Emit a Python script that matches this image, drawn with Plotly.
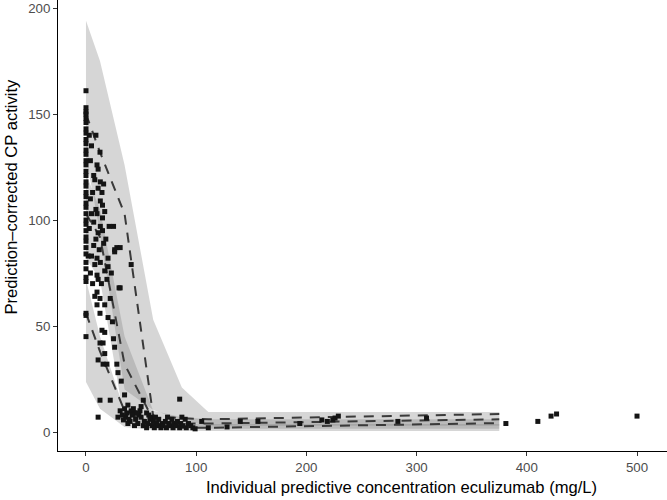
import plotly.graph_objects as go

# ---- data ----
bin_conc = [0, 12.7, 35, 61, 87, 111, 375]

# simulated percentile confidence bands
p95_ci_hi = [194, 175, 126, 53, 21, 9.4, 9.4]
p95_ci_lo = [130, 94, 20, 10.4, 5.7, 3.0, 3.0]
p50_ci_hi = [122, 105, 45, 10, 7, 6, 6]
p50_ci_lo = [82, 72, 5, 3, 2, 1.5, 1.5]
p05_ci_hi = [72, 45, 10, 5, 4, 3.8, 3.8]
p05_ci_lo = [23.6, 11, 2.4, 1.0, 0.6, 0.5, 0.5]

# observed percentiles
obs_p95 = [150, 132, 103, 7.5, 6.5, 6.0, 8.5]
obs_p50 = [103, 92, 32, 5.7, 4.0, 4.0, 6.0]
obs_p05 = [56, 38, 10, 3.0, 2.0, 2.0, 4.2]

# observations: x = 0 group
obs0_y = [161, 153, 151, 150, 148, 146, 143, 141, 138, 136, 133, 131, 128, 126, 123,
          121, 118, 116, 113, 111, 108, 106, 103, 100, 98, 95, 92, 90, 87, 84, 80, 77,
          73, 71, 56, 55, 45]
obs0_x = [0] * len(obs0_y)

obs_conc = obs0_x + [
    5, 3, 12.7, 10, 11, 8, 13, 6, 14.5, 13, 15, 10, 5, 15, 13, 11, 15, 25, 28, 31,
    2, 5, 10, 8, 13, 20, 17, 4, 10, 11, 23, 26, 31, 41, 10, 12.7, 10, 12.7, 20, 14.5,
    17, 12.7, 15.5, 17, 11, 15.5, 19, 25, 26, 28, 29, 32, 35, 12.7, 11, 22, 29, 34, 38, 37,
    41, 44, 49, 52, 55, 60, 85, 26, 30, 7, 9, 12, 16, 3, 7, 9, 4, 11, 7, 16,
    18, 20, 6, 8, 14, 17, 22, 4, 9, 17, 21, 19, 24,
    45, 47, 50, 52, 53, 55, 56, 58, 60, 61, 62, 64, 65, 66, 68, 69, 70, 72, 73, 75,
    76, 78, 79, 80, 82, 83, 85, 86, 88, 90, 91, 93, 95, 97, 99, 40, 42, 38, 36, 44,
    48, 57, 63, 74, 87, 31, 33, 35, 39, 43, 46, 50,
    105, 111, 128, 140, 156, 194, 214, 219, 224, 226, 229, 283, 309, 381, 410, 422, 427, 500]
obs_activity = obs0_y + [
    135, 140, 132, 126, 124, 119, 118, 113, 113, 109, 107, 103, 103, 101, 97, 94, 95, 97, 87, 87,
    83, 83, 82, 79, 80, 82, 76, 75, 74, 72, 75, 85, 68, 79, 66, 63, 60, 56, 54, 48,
    47, 42, 42, 37, 34, 32, 32, 44, 40, 32, 28, 24, 17.5, 15, 7, 15, 7, 5.7, 12.7, 9,
    10, 9, 10, 15, 9, 7, 15.5, 86, 68, 88, 91, 86, 89, 96, 99, 105, 110, 115, 121, 117,
    91, 78, 70, 64, 70, 60, 63, 128, 140, 104, 97, 72, 52,
    6, 4, 7, 3, 5, 2, 4, 6, 3, 5, 2, 4, 3, 6, 2, 4, 3, 5, 2, 4,
    3, 6, 2, 4, 3, 5, 2, 4, 3, 6, 2, 4, 3, 2, 1.5, 5, 8, 4, 7, 3,
    8, 8, 7, 7, 7, 10, 8, 11, 6, 11, 9, 12,
    5, 2, 2.4, 5, 5, 4, 5.7, 5, 5.7, 6.6, 7.5, 5, 6.6, 4, 5, 7.5, 8.5, 7.5]

band_fill = "rgba(128,128,128,0.32)"
line_col = "#3a3a3a"

fig = go.Figure()

for hi, lo in [(p95_ci_hi, p95_ci_lo), (p50_ci_hi, p50_ci_lo), (p05_ci_hi, p05_ci_lo)]:
    fig.add_trace(go.Scatter(
        x=bin_conc + bin_conc[::-1], y=hi + lo[::-1],
        fill="toself", fillcolor=band_fill, mode="none",
        line=dict(width=0), hoverinfo="skip", showlegend=False))

for obs in [obs_p95, obs_p50, obs_p05]:
    fig.add_trace(go.Scatter(
        x=bin_conc, y=obs, mode="lines",
        line=dict(color=line_col, width=2, dash="10px,8px"),
        hoverinfo="skip", showlegend=False))

fig.add_trace(go.Scatter(
    x=obs_conc, y=obs_activity, mode="markers",
    marker=dict(symbol="square", size=5, color="#141414", line=dict(width=0)),
    showlegend=False))

FONT = "Liberation Sans, Arial, sans-serif"
tickfont = dict(family=FONT, size=13.3, color="#4d4d4d")
fig.update_layout(
    width=667, height=500,
    margin=dict(l=58, r=0, t=0, b=49, autoexpand=False),
    paper_bgcolor="white", plot_bgcolor="white",
    showlegend=False,
    font=dict(family=FONT),
    xaxis=dict(range=[-25.4, 527.2], tickvals=[0, 100, 200, 300, 400, 500], automargin=False,
               showgrid=False, zeroline=False, showline=True, linecolor="black", linewidth=1,
               ticks="outside", ticklen=4, tickcolor="#333333", tickfont=tickfont),
    yaxis=dict(range=[-8.96, 203.8], tickvals=[0, 50, 100, 150, 200], automargin=False,
               showgrid=False, zeroline=False, showline=True, linecolor="black", linewidth=1,
               ticks="outside", ticklen=4, tickcolor="#333333", tickfont=tickfont),
    annotations=[
        dict(text="Individual predictive concentration eculizumab (mg/L)",
             xref="paper", yref="paper", x=(401 - 58) / 609, y=(451 - 487) / 451,
             xanchor="center", yanchor="middle", showarrow=False,
             font=dict(family=FONT, size=16.6, color="black")),
        dict(text="Prediction\u2013corrected CP activity",
             xref="paper", yref="paper", x=(11 - 58) / 609, y=(451 - 196.5) / 451,
             xanchor="center", yanchor="middle", textangle=-90, showarrow=False,
             font=dict(family=FONT, size=16.6, color="black")),
    ],
)

fig.write_html("out.html", config={"displayModeBar": False},
               post_script="document.body.style.margin='0';document.body.style.overflow='hidden';")
